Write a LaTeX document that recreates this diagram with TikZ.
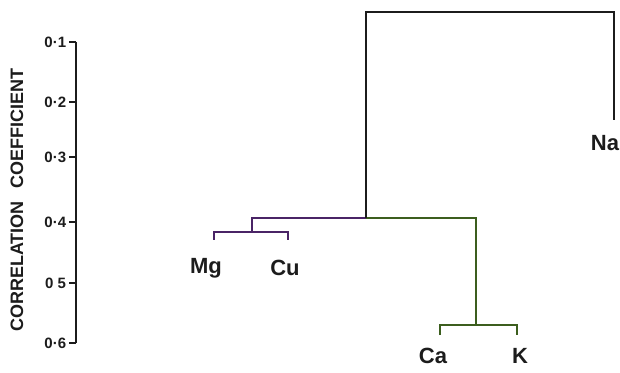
\documentclass[tikz,border=0pt]{standalone}
\usepackage{fontspec}
\setmainfont{Liberation Sans}
\usetikzlibrary{positioning}
\definecolor{inkgrey}{HTML}{1C1C1C}
\definecolor{inkpurple}{HTML}{4A2466}
\definecolor{inkgreen}{HTML}{3C5E1E}

\begin{document}
\begin{tikzpicture}[x=0.5pt,y=-0.5pt]
\tikzstyle{branch}=[line width=0.9pt,inkgrey]
\tikzstyle{leaf}=[font=\fontsize{11}{13}\selectfont\bfseries,inner sep=1pt,text=inkgrey]
\tikzstyle{ticklab}=[font=\fontsize{7.5}{9}\selectfont\bfseries,anchor=east,inner sep=1pt,text=inkgrey]
\useasboundingbox (0,0) rectangle (620,373);
% axis
\coordinate (atop) at (76,42);
\coordinate (abot) at (76,343);
\draw[branch] (atop) -- (abot);
\foreach \i/\t/\y in {1/0·1/42,2/0·2/102,3/0·3/157,4/0·4/222,5/0 5/283,6/0·6/343}{
    \draw[branch] (76,\y) -- ++(-7,0) node[ticklab] (tick\i) {\t};
}
\node[rotate=90,font=\fontsize{9}{11}\selectfont\bfseries,text=inkgrey] (ylab) at (17,200) {CORRELATION\hspace{4pt} COEFFICIENT};
% leaves
\node[leaf] (mg) at (206,268) {Mg};
\node[leaf] (cu) at (285,268) {Cu};
\node[leaf] (ca) at (433,356) {Ca};
\node[leaf] (k) at (520,356) {K};
\node[leaf] (na) at (605,143) {Na};
\coordinate (mgt) at (214,240);
\coordinate (cut) at (288,240);
\coordinate (cat) at (440,335);
\coordinate (kt) at (517,335);
\coordinate (nat) at (614,120);
% joins
\coordinate (jmc) at (252,232);
\coordinate (jck) at (476,325);
\coordinate (jmid) at (366,218);
\coordinate (jtop) at (490,12);
\draw[branch,inkpurple] (mgt) |- (jmc) -| (cut);
\draw[branch,inkpurple] (jmc) |- (jmid);
\draw[branch,inkgreen] (jmid) -| (jck);
\draw[branch,inkgreen] (cat) |- (jck) -| (kt);
\draw[branch] (jmid) |- (jtop) -| (nat);
\end{tikzpicture}
\end{document}
